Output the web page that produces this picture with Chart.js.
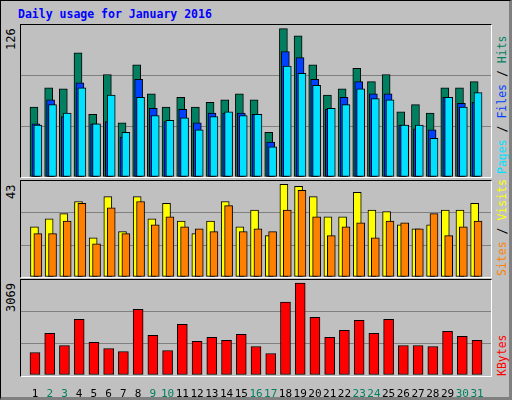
<!DOCTYPE html>
<html><head><meta charset="utf-8">
<script src="https://cdn.jsdelivr.net/npm/chart.js@4"></script>
<style>
body{margin:0;width:512px;height:400px;overflow:hidden;background:#fff;font-family:"DejaVu Sans Mono",monospace;}
#frame{position:absolute;left:0;top:0;width:508px;height:396px;background:#c0c0c0;border:1px solid #000;border-right:3px solid #808080;border-bottom:3px solid #808080;}
.abs{position:absolute;}
.panel{position:absolute;left:20px;width:470px;border-top:1px solid #000;border-left:1px solid #000;border-right:1px solid #fff;border-bottom:1px solid #fff;}
.vt{position:absolute;writing-mode:vertical-rl;transform:rotate(180deg);font-size:12px;white-space:nowrap;}
</style></head><body>
<div id="frame"></div>
<div class="abs" style="left:18px;top:7px;font-weight:bold;font-size:11.5px;color:#0000ff;">Daily usage for January 2016</div>
<div class="vt" style="left:4px;top:26px;height:24px;">126</div>
<div class="vt" style="left:4px;top:181px;height:18px;">43</div>
<div class="vt" style="left:4px;top:280px;height:32px;">3069</div>
<div class="vt" style="left:495px;top:26px;height:148px;font-size:11.5px;"><span style="color:#00e0ff">Pages</span><span style="color:#000"> / </span><span style="color:#0040ff">Files</span><span style="color:#000"> / </span><span style="color:#008060">Hits</span></div>
<div class="vt" style="left:495px;top:182px;height:94px;font-size:11.5px;"><span style="color:#ff8000">Sites</span><span style="color:#000"> / </span><span style="color:#ffff00">Visits</span></div>
<div class="vt" style="left:495px;top:328px;height:48px;color:#ff0000;font-size:11.5px;">KBytes</div>
<div class="panel" style="top:24px;height:152px;"><canvas id="c1"></canvas></div>
<div class="panel" style="top:180px;height:96px;"><canvas id="c2"></canvas></div>
<div class="abs" style="left:20px;top:279px;width:472px;height:118px;"><canvas id="c3"></canvas></div>
<script>
const days=[1,2,3,4,5,6,7,8,9,10,11,12,13,14,15,16,17,18,19,20,21,22,23,24,25,26,27,28,29,30,31];
const weekend=[2,3,9,10,16,17,23,24,30,31];
const hits=[58,74,73,103,52,85,45,93,69,58,66,58,62,64,69,64,37,123,117,93,68,73,90,79,85,54,60,53,74,74,79];
const files=[44,64,50,78,44,46,33,81,57,46,56,45,53,53,53,52,29,104,99,81,56,66,79,69,69,43,40,39,66,61,62];
const pages=[43,60,53,74,44,68,37,66,51,47,49,39,50,54,51,52,25,92,86,76,57,60,73,65,64,43,43,32,66,58,70];
const visits=[22.5,26,28.4,33.8,17.6,36,20.3,36,26,33,25,19.4,25,33.8,22.5,30,18.5,41.5,40.6,36,27,27,37.9,30,29.3,23.4,21.6,23.4,30,30,33];
const sites=[19.4,19.4,25,33,14.9,31,19.4,33.8,23.4,27,22.5,21.6,20.3,32,20.3,21.6,20.3,30,38.8,27,18.5,22.5,24.3,17.6,25,24.3,21.6,28.4,18.5,22.5,25];
const kbytes=[719,1331,944,1781,1041,848,751,2103,1266,783,1620,1073,1202,1105,1298,912,687,2328,2940,1846,1202,1427,1749,1331,1781,944,944,912,1395,1234,1105];
const maxes=[126,43,3069];

const pxPerDay=470/31;
function pts(arr,offPx){return arr.map((v,i)=>({x:days[i]+offPx/pxPerDay,y:v}));}
function ds(arr,off,color,w,order){return {data:pts(arr,off),backgroundColor:color,borderColor:'#000',borderWidth:1,barThickness:w,grouped:false,order:order,borderSkipped:false};}
function opts(max,showX){
 return {responsive:true,maintainAspectRatio:false,animation:false,events:[],
  layout:{padding:0},
  plugins:{legend:{display:false},tooltip:{enabled:false}},
  scales:{
   x:{type:'linear',min:0.5,max:31.5,display:showX,grid:{display:false},border:{display:false},
      afterBuildTicks:s=>{s.ticks=days.map(d=>({value:d}));},
      afterFit:s=>{if(showX)s.height=22;},
      ticks:{autoSkip:false,maxRotation:0,padding:5,font:{family:'DejaVu Sans Mono',size:11},
        callback:(v)=>String(v),
        color:(c)=>weekend.includes(c.tick.value)?'#008060':'#000'}},
   y:{min:0,max:max,display:true,position:'left',border:{display:false},
      afterBuildTicks:s=>{s.ticks=[0,max/3,2*max/3,max].map(v=>({value:v}));},
      afterFit:s=>{s.width=0;},
      ticks:{display:false},grid:{color:(c)=>(c.tick.value>0&&c.tick.value<max)?'#808080':'rgba(0,0,0,0)',lineWidth:1,drawTicks:false}}
  }};
}
new Chart(document.getElementById('c1'),{type:'bar',data:{datasets:[
 ds(hits,-2,'#008060',8,3),ds(files,0,'#0040ff',8,2),ds(pages,2,'#00e0ff',8,1)]},options:opts(maxes[0],false)});
new Chart(document.getElementById('c2'),{type:'bar',data:{datasets:[
 ds(visits,-1.5,'#ffff00',8,2),ds(sites,2,'#ff8000',8,1)]},options:opts(maxes[1],false)});
new Chart(document.getElementById('c3'),{type:'bar',data:{datasets:[
 ds(kbytes,0,'#ff0000',10,1)]},options:opts(maxes[2],true)});
</script>
<div class="abs" style="left:20px;top:279px;width:470px;height:96px;border-top:1px solid #000;border-left:1px solid #000;border-right:1px solid #fff;border-bottom:1px solid #fff;pointer-events:none;"></div>
</body></html>
